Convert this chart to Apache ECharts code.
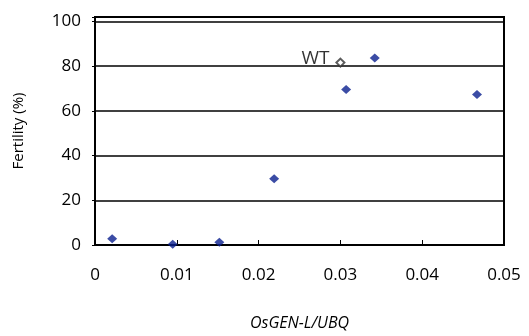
<!DOCTYPE html>
<html><head><meta charset="utf-8">
<script src="https://cdn.jsdelivr.net/npm/echarts@6/dist/echarts.min.js"></script>
<style>html,body{margin:0;padding:0;background:#fff}#c{width:529px;height:336px}</style>
</head><body><div id="c"></div>
<script>
const xValues = [0.0021, 0.0095, 0.0152, 0.0219, 0.0307, 0.0342, 0.0467];
const fertility = [2.8, 0.3, 1.2, 29.6, 69.6, 83.7, 67.3];
const wtX = [0.0300];
const wtY = [81.6];
const wtLabel = 'WT';
const xTicks = ['0', '0.01', '0.02', '0.03', '0.04', '0.05'];
const yTicks = ['0', '20', '40', '60', '80', '100'];

const font = 'Open Sans';
const chart = echarts.init(document.getElementById('c'));
chart.setOption({
  animation: false,
  grid: { left: 95, right: 25, top: 17, bottom: 89, show: true, borderColor: '#000', borderWidth: 2 },
  xAxis: {
    type: 'value', min: 0, max: 0.05, interval: 0.01,
    name: 'OsGEN-L/UBQ', nameLocation: 'middle', nameGap: 70,
    nameTextStyle: { fontFamily: font, fontSize: 16, fontStyle: 'italic', color: '#000' },
    axisLine: { show: true, lineStyle: { color: '#000', width: 2 } },
    axisTick: { show: true, inside: true, length: 5, lineStyle: { color: '#000' } },
    axisLabel: { fontFamily: font, fontSize: 17, color: '#000', margin: 22,
      formatter: v => { const i = Math.round(v / 0.01); return Math.abs(v - i * 0.01) < 1e-9 ? xTicks[i] : ''; } },
    splitLine: { show: false }
  },
  yAxis: {
    type: 'value', min: 0, max: 102, interval: 20,
    name: 'Fertility (%)', nameLocation: 'middle', nameGap: 69, nameRotate: 90,
    nameTextStyle: { fontFamily: font, fontSize: 15, color: '#000' },
    axisLine: { show: true, lineStyle: { color: '#000', width: 2 } },
    axisTick: { show: true, length: 3, lineStyle: { color: '#000' } },
    axisLabel: { fontFamily: font, fontSize: 17, color: '#000', margin: 14,
      formatter: v => (v % 20 === 0 ? yTicks[v / 20] : '') },
    splitLine: { show: true, lineStyle: { color: '#000', width: 1.5 } }
  },
  series: [
    { type: 'scatter', symbol: 'diamond', symbolSize: [10, 9],
      itemStyle: { color: '#0a1f8f' },
      data: xValues.map((x, i) => [x, fertility[i]]) },
    { type: 'scatter', symbol: 'diamond', symbolSize: [8, 8],
      itemStyle: { color: '#fff', borderColor: '#333', borderWidth: 2 },
      label: { show: true, position: 'left', distance: 6, formatter: wtLabel, fontFamily: font, fontSize: 19, color: '#000', offset: [0, -4] },
      data: wtX.map((x, i) => [x, wtY[i]]) }
  ]
});
</script></body></html>
